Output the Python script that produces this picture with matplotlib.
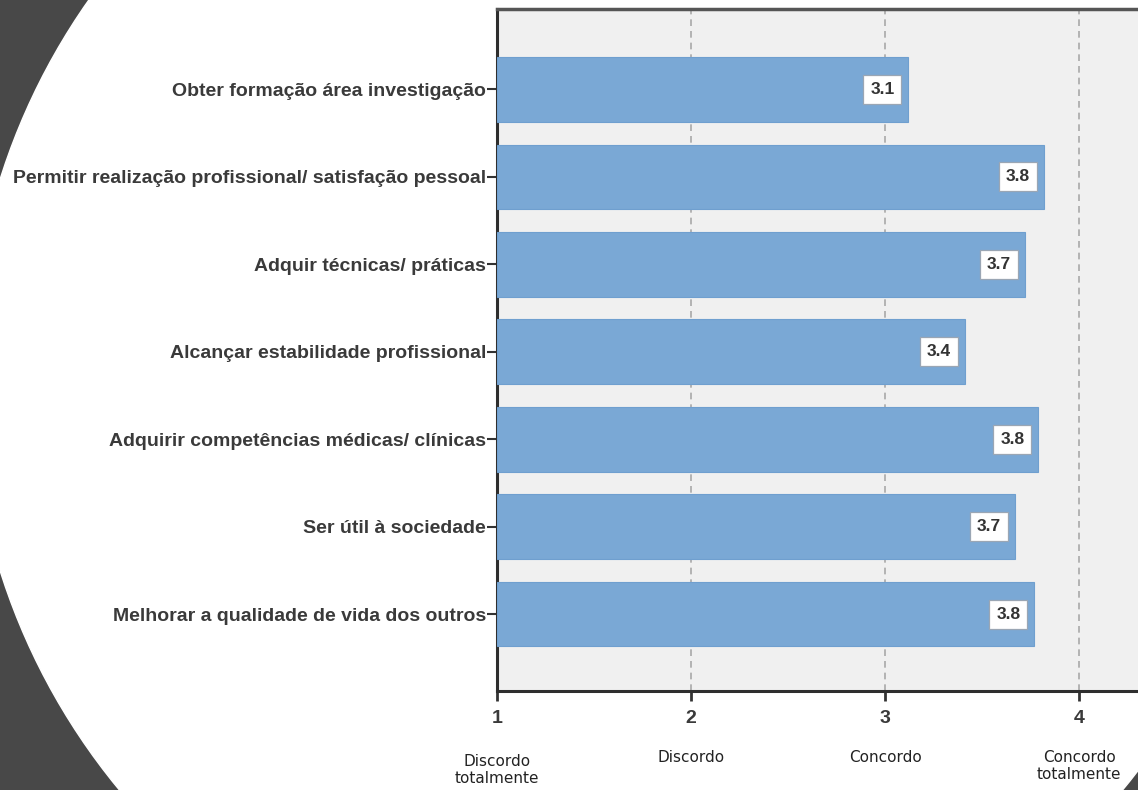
import matplotlib.pyplot as plt
from matplotlib.patches import Ellipse
from matplotlib.transforms import blended_transform_factory

# Data
categorias = [
    "Obter formação área investigação",
    "Permitir realização profissional/ satisfação pessoal",
    "Adquir técnicas/ práticas",
    "Alcançar estabilidade profissional",
    "Adquirir competências médicas/ clínicas",
    "Ser útil à sociedade",
    "Melhorar a qualidade de vida dos outros",
]
medias = [3.12, 3.82, 3.72, 3.41, 3.79, 3.67, 3.77]
rotulos = ["3.1", "3.8", "3.7", "3.4", "3.8", "3.7", "3.8"]
escala_ticks = [1, 2, 3, 4]
escala_nomes = ["Discordo\ntotalmente", "Discordo", "Concordo", "Concordo\ntotalmente"]
escala_y = [770, 757, 757, 766]  # pixel row of each caption centre

W, H = 1138, 790
fig = plt.figure(figsize=(W / 100, H / 100), dpi=100, facecolor="#484848")

# slide background: big white circle over dark grey
bg = fig.add_axes([0, 0, 1, 1], zorder=-5)
bg.set_xlim(0, W)
bg.set_ylim(H, 0)
bg.axis("off")
bg.add_patch(Ellipse((621, 375), 1302, 1302, color="white"))

# main chart
left, right, top, bottom = 497, 1138, 9, 691
ax = fig.add_axes([left / W, 1 - bottom / H, (right - left) / W, (bottom - top) / H])
ax.set_facecolor("#f0f0f0")
px_per_unit = 194
ax.set_xlim(1, 1 + (right - left) / px_per_unit)

y = list(range(len(categorias)))
ax.barh(y, [m - 1 for m in medias], left=1, height=0.74, color="#7aa8d5",
        edgecolor="#6f9fcf", linewidth=0.8, zorder=3)
ax.set_ylim(6.88, -0.92)

for yi, m, r in zip(y, medias, rotulos):
    ax.annotate(r, (m, yi), xytext=(-10, 0), textcoords="offset points",
                ha="right", va="center", fontsize=12.5, fontweight="bold",
                family="Liberation Sans", color="#333333", zorder=5,
                bbox=dict(boxstyle="square,pad=0.4", fc="white", ec="#9aa6b4", lw=0.9))

ax.set_yticks(y)
ax.set_yticklabels(categorias, fontsize=14, fontweight="bold",
                   family="Liberation Sans", color="#3a3a3a")
ax.set_xticks(escala_ticks)
ax.set_xticklabels([str(t) for t in escala_ticks], fontsize=14, fontweight="bold",
                   family="Liberation Sans", color="#3a3a3a")
ax.tick_params(axis="y", length=7, width=1.5, color="#333333", pad=1)
ax.tick_params(axis="x", length=7, width=2, color="#333333", pad=7)

ax.grid(axis="x", linestyle=(0, (4, 3)), color="#a8a8a8", linewidth=1.2, zorder=1)
ax.set_axisbelow(True)

for side in ["left", "bottom"]:
    ax.spines[side].set_linewidth(2.2)
    ax.spines[side].set_color("#2e2e2e")
ax.spines["top"].set_linewidth(2.5)
ax.spines["top"].set_color("#555555")
ax.spines["right"].set_visible(False)

# scale names under the axis
tr = blended_transform_factory(ax.transData, fig.transFigure)
for t, nome, yy in zip(escala_ticks, escala_nomes, escala_y):
    fig.text(t, 1 - yy / H, nome, transform=tr, ha="center", va="center",
             fontsize=11, family="DejaVu Sans", color="#222222", linespacing=1.1)

fig.savefig("out.png", dpi=100, facecolor=fig.get_facecolor())
